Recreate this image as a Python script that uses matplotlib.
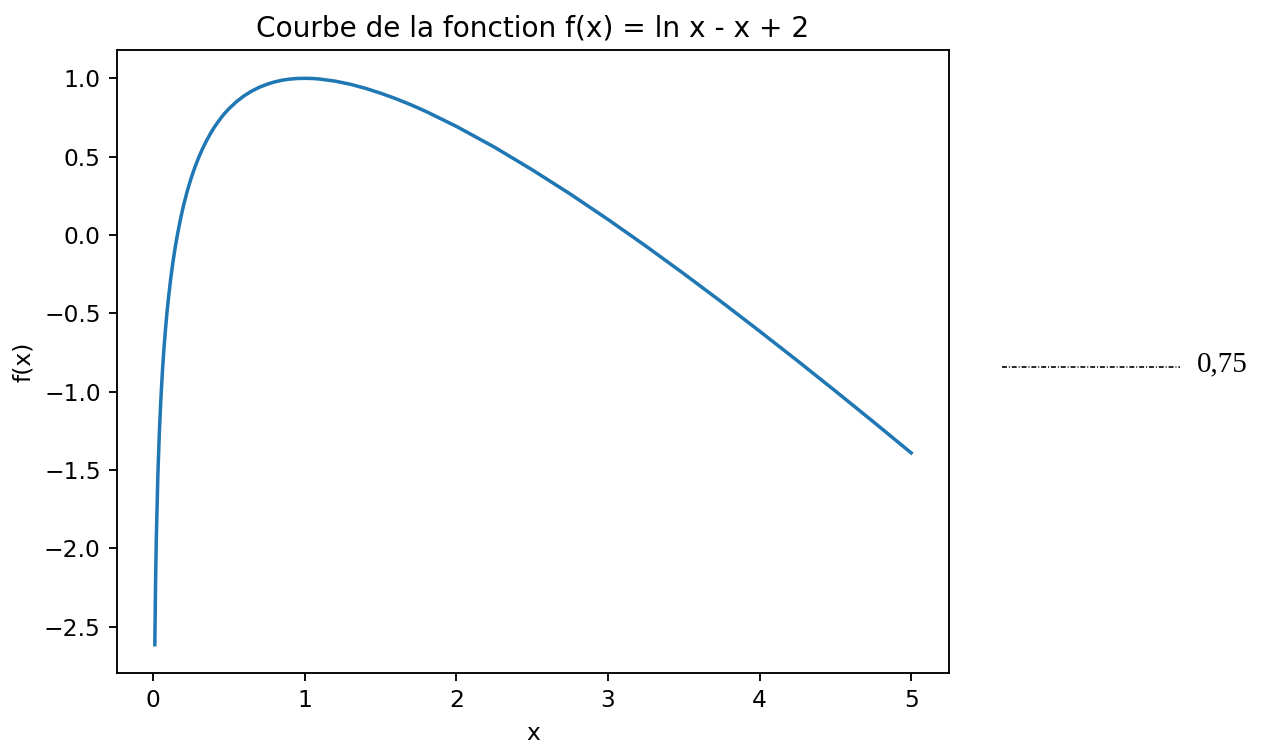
import matplotlib
matplotlib.use("Agg")
import matplotlib.pyplot as plt
from matplotlib.lines import Line2D

# Points
x_vals = [0.01, 0.015, 0.02, 0.03, 0.04, 0.05, 0.06, 0.07, 0.08, 0.09, 0.10,
          0.115, 0.13, 0.145, 0.16, 0.18, 0.20, 0.225, 0.25, 0.275, 0.30,
          0.325, 0.35, 0.375, 0.40, 0.425, 0.45, 0.475, 0.50, 0.55, 0.60,
          0.65, 0.70, 0.75, 0.80, 0.85, 0.90, 0.95, 1.00, 1.05, 1.10, 1.20,
          1.30, 1.40, 1.50, 1.60, 1.70, 1.80, 2.00, 2.25, 2.50, 2.75, 3.00,
          3.25, 3.50, 3.75, 4.00, 4.25, 4.50, 4.75, 5.00]
y_vals = [-2.615, -2.215, -1.932, -1.537, -1.259, -1.046, -0.873, -0.729,
          -0.606, -0.498, -0.403, -0.278, -0.170, -0.076, 0.007, 0.105, 0.191,
          0.284, 0.364, 0.434, 0.496, 0.551, 0.600, 0.644, 0.684, 0.719, 0.752,
          0.781, 0.807, 0.852, 0.889, 0.919, 0.943, 0.962, 0.977, 0.988, 0.995,
          0.999, 1.000, 0.999, 0.995, 0.982, 0.962, 0.936, 0.905, 0.870, 0.831,
          0.788, 0.693, 0.561, 0.416, 0.262, 0.099, -0.071, -0.247, -0.428,
          -0.614, -0.803, -0.996, -1.192, -1.391]

side_label = "0,75"

dpi = 168
fig = plt.figure(figsize=(1267 / dpi, 747 / dpi), dpi=dpi)
ax = fig.add_axes([117 / 1267, 1 - 673 / 747, (949 - 117) / 1267, (673 - 50) / 747])

ax.plot(x_vals, y_vals, color='#1f77b4', linewidth=1.5)

ax.set_title("Courbe de la fonction f(x) = ln x - x + 2")
ax.set_xlabel("x")
ax.set_ylabel("f(x)")

# Stray dash-dot mark and label on the right side
line = Line2D([1002 / 1267, 1180 / 1267], [1 - 367 / 747, 1 - 367 / 747],
              transform=fig.transFigure, color='black', linewidth=0.7,
              dashes=[3.0, 1.2, 0.6, 1.2])
fig.add_artist(line)
fig.text(1197 / 1267, 1 - 364 / 747, side_label, fontsize=12.5,
         family='Liberation Serif', ha='left', va='center', color='black')

fig.savefig("out.png", dpi=dpi)
